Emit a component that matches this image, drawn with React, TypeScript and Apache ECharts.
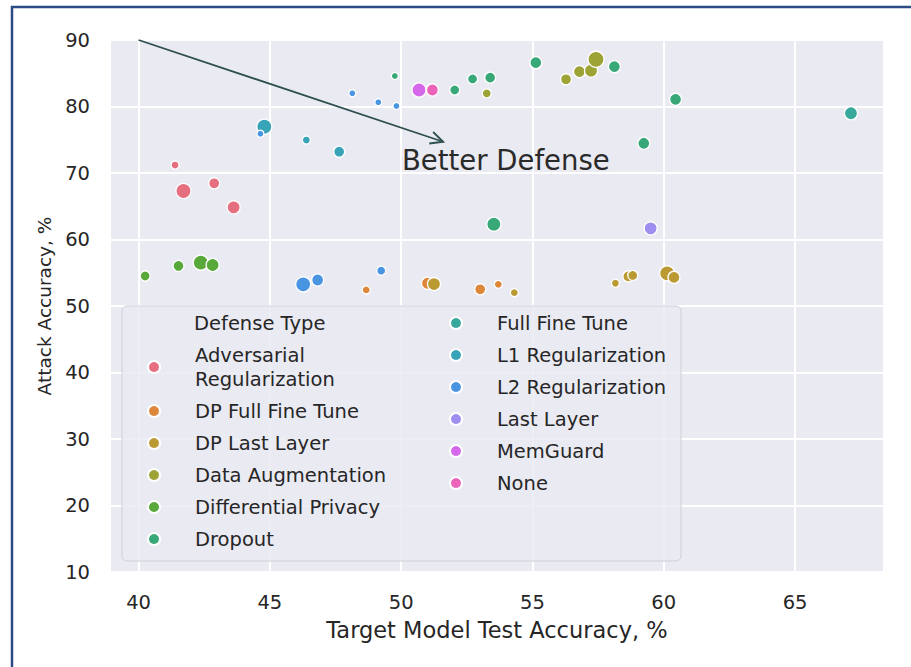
import React, { useEffect, useRef } from "react";
import * as echarts from "echarts";

// Defense types (legend order)
const categories = [
  "Adversarial Regularization",
  "DP Full Fine Tune",
  "DP Last Layer",
  "Data Augmentation",
  "Differential Privacy",
  "Dropout",
  "Full Fine Tune",
  "L1 Regularization",
  "L2 Regularization",
  "Last Layer",
  "MemGuard",
  "None",
];

const palette = [
  "#e56e7f",
  "#dc8739",
  "#bb9a34",
  "#9da335",
  "#58a83a",
  "#38a878",
  "#37a89b",
  "#38a4b8",
  "#4a95e2",
  "#9d8ef0",
  "#d467ea",
  "#ec63ba",
];

// each point: [target model test accuracy %, attack accuracy %, size value]
const adversarialRegularization = [[41.39, 71.2, 8], [41.71, 67.3, 15], [42.88, 68.45, 11], [43.62, 64.84, 13]];
const dpFullFineTune = [[48.67, 52.41, 8], [51.0, 53.42, 12], [53.01, 52.51, 11], [53.7, 53.26, 8]];
const dpLastLayer = [[51.25, 53.3, 13], [54.31, 52.0, 8], [58.16, 53.42, 8], [58.65, 54.45, 11], [58.82, 54.6, 10], [60.13, 54.91, 15], [60.39, 54.31, 12]];
const dataAugmentation = [[51.1, 82.8, 7], [53.26, 81.98, 9], [56.28, 84.09, 11], [56.79, 85.24, 12], [57.23, 85.39, 13], [57.42, 87.09, 16]];
const differentialPrivacy = [[40.25, 54.51, 10], [41.52, 56.02, 11], [42.37, 56.52, 15], [42.82, 56.17, 13]];
const dropout = [[49.76, 84.59, 7], [52.04, 82.48, 10], [52.72, 84.14, 10], [53.39, 84.34, 11], [55.13, 86.59, 12], [58.12, 85.99, 12], [59.24, 74.47, 12], [60.45, 81.08, 12], [53.53, 62.3, 14]];
const fullFineTune = [[67.13, 78.98, 13]];
const l1Regularization = [[44.79, 76.96, 15], [46.39, 74.96, 8], [47.64, 73.2, 11]];
const l2Regularization = [[48.14, 81.98, 7], [49.13, 80.63, 7], [49.82, 80.08, 7], [44.64, 75.91, 7], [46.27, 53.26, 15], [46.82, 53.91, 12], [49.24, 55.31, 9]];
const lastLayer = [[59.5, 61.68, 13]];
const memGuard = [[50.68, 82.48, 14]];
const noneDefense = [[51.19, 82.48, 12]];

const seriesData = [
  adversarialRegularization,
  dpFullFineTune,
  dpLastLayer,
  dataAugmentation,
  differentialPrivacy,
  dropout,
  fullFineTune,
  l1Regularization,
  l2Regularization,
  lastLayer,
  memGuard,
  noneDefense,
];

// annotation arrow: from [x, y] to [x, y]
const arrowFromTo = [[40.0, 90.0, 51.6, 74.7]];
const annotationText = "Better Defense";
const legendTitle = "Defense Type";
const xAxisTitle = "Target Model Test Accuracy, %";
const yAxisTitle = "Attack Accuracy, %";

const FONT = "DejaVu Sans";
const TEXT = "#262626";

export default function App() {
  const ref = useRef<HTMLDivElement>(null);

  useEffect(() => {
    document.body.style.margin = "0";
    const chart = echarts.init(ref.current!, null, { renderer: "svg" });

    const scatterSeries = categories.map((name, i) => ({
      type: "scatter",
      name,
      data: seriesData[i],
      symbol: "circle",
      symbolSize: (v: number[]) => v[2],
      itemStyle: { color: palette[i], borderColor: "#ffffff", borderWidth: 1.3, opacity: 1 },
      z: 2,
    }));

    const legendCommon = {
      orient: "vertical",
      icon: "circle",
      itemWidth: 72,
      itemHeight: 12,
      itemGap: 8,
      padding: 0,
      selectedMode: false,
      textStyle: { fontFamily: FONT, fontSize: 19.5, lineHeight: 24, color: TEXT },
      formatter: (n: string) => (n === "Adversarial Regularization" ? "Adversarial\nRegularization" : n),
      z: 5,
    };

    chart.setOption({
      animation: false,
      textStyle: { fontFamily: FONT },
      grid: {
        left: 111,
        right: 28,
        top: 40,
        bottom: 95,
        show: true,
        backgroundColor: "#eaeaf2",
        borderWidth: 0,
      },
      xAxis: {
        type: "value",
        min: 38.95,
        max: 68.35,
        name: xAxisTitle,
        nameLocation: "middle",
        nameGap: 46,
        nameTextStyle: { fontFamily: FONT, fontSize: 22.5, color: TEXT },
        axisLine: { show: false },
        axisTick: { show: false },
        axisLabel: { fontFamily: FONT, fontSize: 19.5, color: TEXT, margin: 20, showMinLabel: false, showMaxLabel: false },
        splitLine: { show: true, showMinLine: false, showMaxLine: false, lineStyle: { color: "#ffffff", width: 2 } },
      },
      yAxis: {
        type: "value",
        min: 10,
        max: 90,
        interval: 10,
        name: yAxisTitle,
        nameLocation: "middle",
        nameGap: 56,
        nameTextStyle: { fontFamily: FONT, fontSize: 18.5, color: TEXT },
        axisLine: { show: false },
        axisTick: { show: false },
        axisLabel: { fontFamily: FONT, fontSize: 19.5, color: TEXT, margin: 21 },
        splitLine: { show: true, lineStyle: { color: "#ffffff", width: 2 } },
      },
      legend: [
        { ...legendCommon, left: 147, top: 343, data: categories.slice(0, 6) },
        { ...legendCommon, left: 449, top: 311, data: categories.slice(6) },
      ],
      graphic: [
        {
          type: "rect",
          z: 1,
          shape: { x: 12, y: 7, width: 1200, height: 1200 },
          style: { fill: "none", stroke: "#2c4a86", lineWidth: 2.5 },
          silent: true,
        },
        {
          type: "rect",
          z: 4,
          shape: { x: 122, y: 306, width: 559, height: 255, r: 5 },
          style: { fill: "rgba(234,234,242,0.85)", stroke: "#cfcfd6", lineWidth: 1 },
          silent: true,
        },
        {
          type: "text",
          z: 5,
          x: 194,
          y: 323,
          style: { text: legendTitle, fontFamily: FONT, fontSize: 19.5, fill: TEXT, verticalAlign: "middle", align: "left" },
          silent: true,
        },
        {
          type: "text",
          z: 5,
          x: 402,
          y: 160,
          style: { text: annotationText, fontFamily: FONT, fontSize: 27.5, fill: "#2a2a2a", verticalAlign: "middle", align: "left" },
          silent: true,
        },
      ],
      series: [
        ...scatterSeries,
        {
          type: "custom",
          name: "arrow",
          data: arrowFromTo,
          clip: false,
          silent: true,
          z: 3,
          renderItem: (_params: any, api: any) => {
            const p1 = api.coord([api.value(0), api.value(1)]);
            const p2 = api.coord([api.value(2), api.value(3)]);
            const ang = Math.atan2(p2[1] - p1[1], p2[0] - p1[0]);
            const L = 14;
            const a = Math.PI / 7;
            const h1 = [p2[0] - L * Math.cos(ang - a), p2[1] - L * Math.sin(ang - a)];
            const h2 = [p2[0] - L * Math.cos(ang + a), p2[1] - L * Math.sin(ang + a)];
            return {
              type: "group",
              children: [
                { type: "line", shape: { x1: p1[0], y1: p1[1], x2: p2[0], y2: p2[1] }, style: { stroke: "#2f4f4f", lineWidth: 1.8 } },
                { type: "polyline", shape: { points: [h1, p2, h2] }, style: { stroke: "#2f4f4f", lineWidth: 1.8, fill: "none" } },
              ],
            };
          },
        },
      ],
    });

    return () => chart.dispose();
  }, []);

  return <div ref={ref} style={{ width: 911, height: 667 }} />;
}
